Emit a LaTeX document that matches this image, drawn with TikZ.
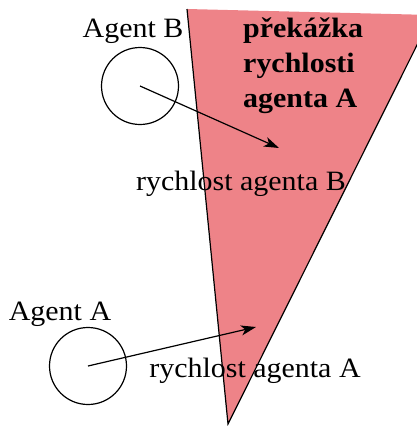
\documentclass[tikz,border=0pt]{standalone}
\usepackage{fontspec}
\setmainfont{Liberation Serif}[FakeStretch=1.07]
\usetikzlibrary{arrows.meta}
\definecolor{obstacle}{RGB}{238,131,136}
\tikzset{
  agent/.style={draw, circle, line width=1.2pt, minimum size=77pt, inner sep=0pt},
  velocity/.style={line width=1.2pt, -{Stealth[length=15pt, width=10pt, inset=4pt]}},
  edge/.style={line width=1.2pt},
  label/.style={font=\fontsize{28}{34}\selectfont, anchor=base, inner sep=0pt},
  boldlabel/.style={font=\fontsize{28}{35}\selectfont\bfseries, align=left, anchor=north west, inner sep=0pt}
}
\begin{document}
\begin{tikzpicture}[x=1pt, y=-1pt]
  \useasboundingbox (0,0) rectangle (417,426);
  \begin{scope}
    \clip (0,0) rectangle (417,426);
    % velocity obstacle cone
    \coordinate (apex) at (228,424);
    \coordinate (coneL) at (187,9);
    \coordinate (coneR) at (432,15);
    \fill[obstacle] (coneL) -- (coneR) -- (apex) -- cycle;
    \draw[edge] (coneL) -- (apex) -- (coneR);
  \end{scope}
  \node[boldlabel] (vo) at (243,18) {překážka\\rychlosti\\agenta A};

  % agents
  \node[agent] (agentB) at (140,86) {};
  \node[agent] (agentA) at (88,366) {};
  \node[label] (nameB) at (133,37) {Agent B};
  \node[label] (nameA) at (60,320) {Agent A};

  % velocities
  \coordinate (tipB) at (279,148);
  \coordinate (tipA) at (256,327);
  \draw[velocity] (agentB.center) -- (tipB);
  \draw[velocity] (agentA.center) -- (tipA);
  \node[label] (velB) at (241,190) {rychlost agenta B};
  \node[label] (velA) at (255,377) {rychlost agenta A};
\end{tikzpicture}
\end{document}
